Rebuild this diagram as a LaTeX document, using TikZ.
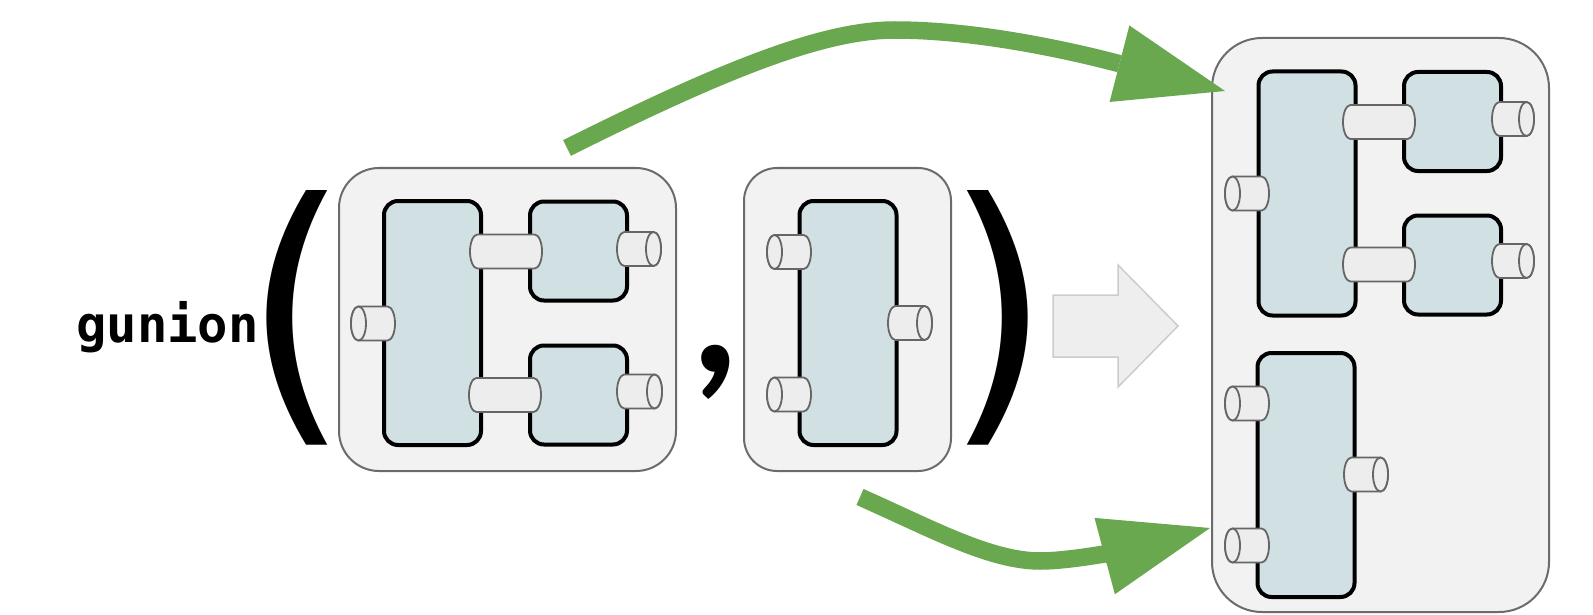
\documentclass[tikz,border=0pt]{standalone}
\usepackage{fontspec}
\usetikzlibrary{arrows.meta}
\newfontfamily\codefont{DejaVu Sans Mono}
\newfontfamily\glyphfont{DejaVu Sans}
\newfontfamily\commafont{Lato}
\definecolor{outerfill}{HTML}{F2F2F2}
\definecolor{outerline}{HTML}{6B6B6B}
\definecolor{blockfill}{HTML}{D0E0E3}
\definecolor{portfill}{HTML}{EDEDED}
\definecolor{portline}{HTML}{666666}
\definecolor{arrowgreen}{HTML}{6AA84F}
\definecolor{bigarrowfill}{HTML}{EEEEEE}
\definecolor{bigarrowline}{HTML}{CCCCCC}
\tikzset{
  outerbox/.style={draw=outerline, fill=outerfill, line width=2pt, rectangle, inner sep=0pt},
  blockbox/.style={draw=black, fill=blockfill, line width=4pt, rounded corners=14pt, rectangle, inner sep=0pt, minimum width=97pt},
  port/.style={draw=portline, fill=portfill, line width=1.8pt},
  garrow/.style={draw=arrowgreen, line width=17.5pt, -{Triangle[length=109pt,width=79pt,line width=0pt]}},
  bigarrow/.style={draw=bigarrowline, fill=bigarrowfill, line width=1.5pt, line join=miter},
  paren/.style={inner sep=0pt, font=\glyphfont\fontsize{286}{300}\selectfont, xscale=0.95},
}
% cylinder body between x=#1 and x=#2 at height #3
\newcommand{\cylbody}[3]{%
  \draw[port] ({#1+7.5},{#3-17}) -- ({#2-7.5},{#3-17})
    arc[start angle=90,end angle=-90,x radius=7.5pt,y radius=17pt]
    -- ({#1+7.5},{#3+17})
    arc[start angle=-90,end angle=-270,x radius=7.5pt,y radius=17pt] -- cycle;}
\newcommand{\portR}[3]{\cylbody{#1}{#2}{#3}\draw[port] ({#2-7.5},#3) ellipse[x radius=7.5pt,y radius=17pt];}
\newcommand{\portL}[3]{\cylbody{#1}{#2}{#3}\draw[port] ({#1+7.5},#3) ellipse[x radius=7.5pt,y radius=17pt];}
\newcommand{\linkcyl}[3]{\cylbody{#1}{#2}{#3}}
\begin{document}
\begin{tikzpicture}[x=1pt,y=-1pt]
\useasboundingbox (0,0) rectangle (1593,615);

% text
\node[anchor=base west, inner sep=0pt, font=\codefont\bfseries\fontsize{50.5}{60}\selectfont] (fname) at (76,342) {gunion};
\node[paren] (lparen) at (296.5,317.5) {(};
\node[paren] (rparen) at (998.5,317.5) {)};
\node[inner sep=0pt, font=\commafont\bfseries\fontsize{190}{190}\selectfont] (comma) at (716,372) {,};

% first argument
\node[outerbox, rounded corners=40pt, minimum width=337pt, minimum height=303pt] (box1) at (507.5,319.5) {};
\node[blockbox, minimum height=244pt] (b1) at (432.5,323) {};
\node[blockbox, minimum height=99pt] (b2) at (578.5,251) {};
\node[blockbox, minimum height=99pt] (b3) at (578.5,395) {};
\portL{351}{395}{323.5}
\linkcyl{470}{542}{251.5}
\linkcyl{469}{541}{395}
\portR{617}{661}{249}
\portR{617}{662}{391.5}

% second argument
\node[outerbox, rounded corners=33pt, minimum width=207pt, minimum height=303pt] (box2) at (847.5,319.5) {};
\node[blockbox, minimum height=244pt] (b4) at (848,323) {};
\portL{767}{811}{252}
\portL{767}{811}{394.5}
\portR{888}{932}{323}

% result
\node[outerbox, rounded corners=50pt, minimum width=337pt, minimum height=574pt] (big) at (1380.5,325) {};
\node[blockbox, minimum height=244pt] (bA) at (1307,193.5) {};
\node[blockbox, minimum height=99pt] (bB) at (1452.5,121.5) {};
\node[blockbox, minimum height=99pt] (bC) at (1452.5,265) {};
\node[blockbox, minimum height=244pt] (bD) at (1306,475) {};
\portL{1225}{1269}{193.5}
\linkcyl{1343}{1415}{122}
\linkcyl{1343}{1415}{264.5}
\portR{1492}{1534}{119}
\portR{1492}{1534}{261}
\portL{1225}{1269}{403.5}
\portL{1225}{1269}{545.5}
\portR{1344}{1388}{474.5}

% big gray arrow
\draw[bigarrow] (1053,295) -- (1118,295) -- (1118,265) -- (1178,326) -- (1118,387) -- (1118,357) -- (1053,357) -- cycle;

% green arrows
\coordinate (s1) at (567,148);
\coordinate (e1) at (1225,91);
\coordinate (s2) at (860,497);
\coordinate (e2) at (1210,528);
\draw[garrow] (s1) .. controls (729,67) and (825,30) .. (895,30) .. controls (995,30) and (1109,61) .. (e1);
\draw[garrow] (s2) .. controls (930,528) and (990,561) .. (1040,561) .. controls (1080,561) and (1150,544) .. (e2);
\end{tikzpicture}
\end{document}
